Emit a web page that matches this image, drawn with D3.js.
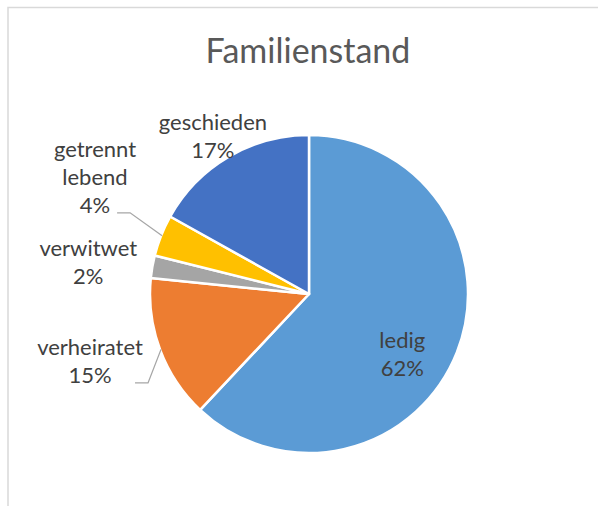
<!DOCTYPE html>
<html>
<head>
<meta charset="utf-8">
<script src="https://cdn.jsdelivr.net/npm/d3@7"></script>
<style>
  html, body { margin: 0; padding: 0; background: #fff; }
  svg { display: block; }
</style>
</head>
<body>
<svg id="chart"></svg>
<script>
// Data
const title = "Familienstand";
const categories = ["ledig", "verheiratet", "verwitwet", "getrennt lebend", "geschieden"];
const shares = [62, 14.6, 2.3, 4.2, 16.9];
const colors = ["#5B9BD5", "#ED7D31", "#A5A5A5", "#FFC000", "#4472C4"];
// label text split into lines
const labelLines = [["ledig"], ["verheiratet"], ["verwitwet"], ["getrennt", "lebend"], ["geschieden"]];

const width = 598;
const height = 506;
const cx = 309;
const cy = 294;
const radius = 159;
const lineHeight = 28;

// label placement (polar: angle in degrees, distance from center), leader elbow offset
const labelLayout = [
  { angle: 122.8, dist: 111, leader: null },
  { angle: 253, dist: 229, leader: 13 },
  { angle: 278.2, dist: 223, leader: null },
  { angle: 298.7, dist: 244, leader: 32 },
  { angle: 328.7, dist: 185, leader: null },
];

const svg = d3
  .select("#chart")
  .attr("width", width)
  .attr("height", height);

// chart frame
svg
  .append("rect")
  .attr("x", 8)
  .attr("y", 7.5)
  .attr("width", width + 20)
  .attr("height", height + 20)
  .attr("fill", "#fff")
  .attr("stroke", "#D9D9D9")
  .attr("stroke-width", 1.5);

// title
svg
  .append("text")
  .attr("x", 308)
  .attr("y", 63)
  .attr("text-anchor", "middle")
  .style("font-family", "Lato, 'Open Sans', sans-serif")
  .style("font-size", "34px")
  .style("fill", "#595959")
  .text(title);

const pie = d3.pie().sort(null).value((d) => d);
const arcs = pie(shares);

const arc = d3.arc().innerRadius(0).outerRadius(radius);

const g = svg.append("g").attr("transform", `translate(${cx},${cy})`);

g.selectAll("path")
  .data(arcs)
  .enter()
  .append("path")
  .attr("d", arc)
  .attr("fill", (d, i) => colors[i])
  .attr("stroke", "#fff")
  .attr("stroke-width", 2.5)
  .attr("stroke-linejoin", "round");

const polar = (deg, r) => {
  const a = (deg * Math.PI) / 180;
  return [r * Math.sin(a), -r * Math.cos(a)];
};

// data labels
arcs.forEach((d, i) => {
  const lay = labelLayout[i];
  const [lx, ly] = polar(lay.angle, lay.dist);
  const lines = labelLines[i].concat([Math.round(shares[i]) + "%"]);
  const first = ly + 8 - ((lines.length - 1) / 2) * lineHeight;

  const t = g
    .append("text")
    .attr("text-anchor", "middle")
    .style("font-family", "Lato, 'Open Sans', sans-serif")
    .style("font-size", "22px")
    .style("fill", "#404040");

  lines.forEach((s, j) => {
    t.append("tspan")
      .attr("x", lx)
      .attr("y", first + j * lineHeight)
      .text(s);
  });

  // leader line for labels sitting away from their slice
  if (lay.leader !== null) {
    const mid = ((d.startAngle + d.endAngle) / 2) * 180 / Math.PI;
    const end = polar(mid, radius - 1);
    const lastY = first + (lines.length - 1) * lineHeight;
    const elbow = [end[0] - lay.leader, lastY];
    const start = [elbow[0] - 13, lastY];
    g.append("polyline")
      .attr("points", [start, elbow, end].map((p) => p.join(",")).join(" "))
      .attr("fill", "none")
      .attr("stroke", "#A6A6A6")
      .attr("stroke-width", 1.3);
  }
});
</script>
</body>
</html>
